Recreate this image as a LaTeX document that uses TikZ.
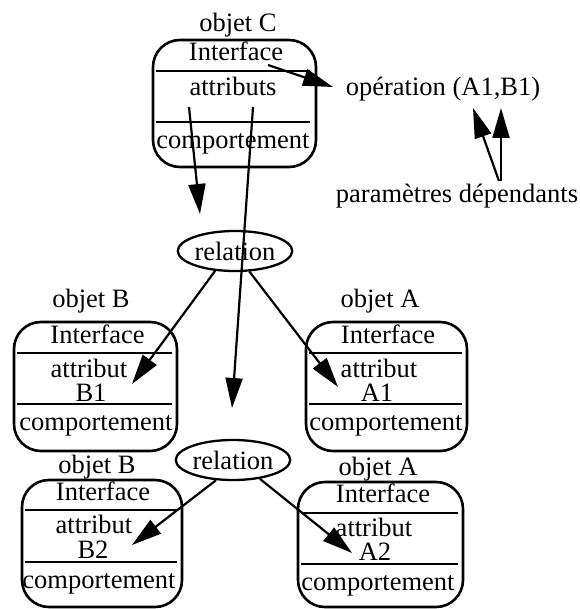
\documentclass[tikz,border=0pt]{standalone}
\usepackage{fontspec}
\setmainfont{Liberation Serif}
\usetikzlibrary{arrows.meta,shapes.geometric}
\tikzset{
  lbl/.style={font=\fontsize{26.5pt}{23pt}\selectfont, inner sep=0pt, anchor=base},
  objbox/.style={draw, rounded corners=27pt, line width=2.6pt, inner sep=0pt},
  sep/.style={line width=2.2pt},
  rel/.style={draw, ellipse, line width=2.3pt, minimum width=112pt, minimum height=40pt,
              inner sep=0pt, font=\fontsize{26.5pt}{23pt}\selectfont},
  link/.style={-{Triangle[length=30pt,width=17pt]}, line width=2.2pt},
}
\begin{document}
\begin{tikzpicture}[x=1pt,y=-1pt]
\useasboundingbox (0,0) rectangle (579,609);

% object C
\node[objbox, minimum width=163pt, minimum height=127pt] (boxC) at (234.5,103.5) {};
\draw[sep] (156,71) -- (310,71);
\draw[sep] (156,122) -- (310,122);
\node[lbl] (titleC) at (238,32) {objet C};
\node[lbl] (ifaceC) at (236,61) {Interface};
\node[lbl] (attrC) at (233,96) {attributs};
\node[lbl] (compC) at (233,149) {comportement};

% operation and its parameters
\node[lbl] (op) at (443,96) {opération (A1,B1)};
\node[lbl] (param) at (457,203) {paramètres dépendants};

% relations
\node[rel] (rel1) at (235,251) {relation};
\node[rel] (rel2) at (233,460) {relation};

% object B (first)
\node[objbox, minimum width=163pt, minimum height=129pt] (boxB1) at (95.5,386.5) {};
\draw[sep] (17,353) -- (172,353);
\draw[sep] (17,404) -- (172,404);
\node[lbl] (titleB1) at (91,307) {objet B};
\node[lbl] (ifaceB1) at (97.5,343) {Interface};
\node[lbl] (attrB1a) at (89,377) {attribut};
\node[lbl] (attrB1b) at (91,401) {B1};
\node[lbl] (compB1) at (96,430) {comportement};

% object A (first)
\node[objbox, minimum width=161pt, minimum height=129pt] (boxA1) at (386.5,386.5) {};
\draw[sep] (309,353) -- (462,353);
\draw[sep] (309,404) -- (462,404);
\node[lbl] (titleA1) at (380,307) {objet A};
\node[lbl] (ifaceA1) at (388,343) {Interface};
\node[lbl] (attrA1a) at (379,377) {attribut};
\node[lbl] (attrA1b) at (377,401) {A1};
\node[lbl] (compA1) at (386,430) {comportement};

% object B (second)
\node[objbox, minimum width=160pt, minimum height=127pt] (boxB2) at (102,543.5) {};
\draw[sep] (25,510) -- (177,510);
\draw[sep] (25,562) -- (177,562);
\node[lbl] (titleB2) at (97,473) {objet B};
\node[lbl] (ifaceB2) at (103,500) {Interface};
\node[lbl] (attrB2a) at (94,533) {attribut};
\node[lbl] (attrB2b) at (93,558) {B2};
\node[lbl] (compB2) at (99,588) {comportement};

% object A (second)
\node[objbox, minimum width=165pt, minimum height=125pt] (boxA2) at (380.5,544.5) {};
\draw[sep] (301,513) -- (458,513);
\draw[sep] (301,564) -- (458,564);
\node[lbl] (titleA2) at (378,475) {objet A};
\node[lbl] (ifaceA2) at (383,502) {Interface};
\node[lbl] (attrA2a) at (374,536) {attribut};
\node[lbl] (attrA2b) at (375,560) {A2};
\node[lbl] (compA2) at (378,590) {comportement};

% connector end points
\coordinate (ifaceOut) at (268,65);
\coordinate (opIn) at (333,87);
\coordinate (parL) at (499,181);
\coordinate (parR) at (501,181);
\coordinate (opA) at (473,108);
\coordinate (opB) at (501,108);
\coordinate (attrOut1) at (189,107);
\coordinate (attrOut2) at (253,107);
\coordinate (relIn1) at (200,214);
\coordinate (relIn2) at (232,408);
\coordinate (tipB1) at (132,384);
\coordinate (tipA1) at (338,387);
\coordinate (tipB2) at (132,545);
\coordinate (tipA2) at (352,553);

% connectors
\draw[link] (ifaceOut) -- (opIn);
\draw[link] (parL) -- (opA);
\draw[link] (parR) -- (opB);
\draw[link] (attrOut1) -- (relIn1);
\draw[link] (attrOut2) -- (relIn2);
\draw[link] (rel1.225) -- (tipB1);
\draw[link] (rel1.-55) -- (tipA1);
\draw[link] (rel2.230) -- (tipB2);
\draw[link] (rel2.-35) -- (tipA2);
\end{tikzpicture}
\end{document}
